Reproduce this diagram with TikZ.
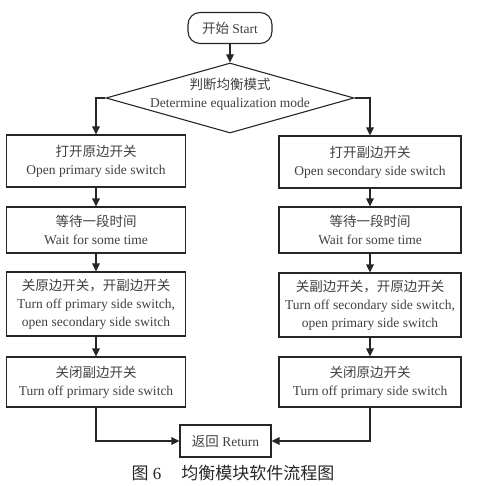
\documentclass[tikz,border=0pt]{standalone}
\usepackage{fontspec}
\setmainfont{Liberation Serif}
\newfontfamily\cjk{Noto Sans CJK SC}
\usetikzlibrary{shapes.geometric,arrows.meta}
\begin{document}
\begin{tikzpicture}[x=1pt,y=-1pt,
  line/.style={draw=black!85, line width=1.1pt},
  arr/.style={line, -{Triangle[length=8pt,width=7.5pt]}},
  txt/.style={align=center, font=\fontsize{13.5}{18}\selectfont, text=black!75},
  stepbox/.style={txt, draw=black!85, line width=1.1pt, rectangle, inner sep=0pt},
  lbox/.style={stepbox, minimum width=179pt},
  rbox/.style={stepbox, minimum width=182pt},
  startbox/.style={stepbox, rounded corners=12pt, minimum width=84pt, minimum height=31pt},
  dia/.style={draw=black!85, line width=1.1pt, diamond, inner sep=0pt, minimum width=248pt, minimum height=70pt}
]
\useasboundingbox (0,0) rectangle (479,486);

\node[startbox] (s) at (230,28) {{\cjk 开始} Start};
\node[dia] (d) at (230,98) {};
\node[txt] (dt) at (230,94) {{\cjk 判断均衡模式}\\Determine equalization mode};

\node[lbox, minimum height=52pt] (L1) at (96,161) {{\cjk 打开原边开关}\\Open primary side switch};
\node[lbox, minimum height=46pt] (L2) at (96,230) {{\cjk 等待一段时间}\\Wait for some time};
\node[lbox, minimum height=64pt] (L3) at (96,304) {{\cjk 关原边开关，开副边开关}\\Turn off primary side switch,\\open secondary side switch};
\node[lbox, minimum height=50pt] (L4) at (96,382) {{\cjk 关闭副边开关}\\Turn off primary side switch};

\node[rbox, minimum height=52pt] (R1) at (370,162) {{\cjk 打开副边开关}\\Open secondary side switch};
\node[rbox, minimum height=46pt] (R2) at (370,230) {{\cjk 等待一段时间}\\Wait for some time};
\node[rbox, minimum height=64pt] (R3) at (370,305) {{\cjk 关副边开关，开原边开关}\\Turn off secondary side switch,\\open primary side switch};
\node[rbox, minimum height=50pt] (R4) at (370,382) {{\cjk 关闭原边开关}\\Turn off primary side switch};

\node[stepbox, minimum width=91pt, minimum height=32pt] (ret) at (225.5,441) {{\cjk 返回} Return};

\node[font=\fontsize{17}{18}\selectfont, text=black!85] (cap) at (233,473) {{\cjk 图}~6\hspace{20pt}{\cjk 均衡模块软件流程图}};

\draw[arr] (s) -- (d.north);
\draw[arr] (d.west) -| (L1.north);
\draw[arr] (d.east) -| (R1.north);
\draw[arr] (L1) -- (L2);
\draw[arr] (L2) -- (L3);
\draw[arr] (L3) -- (L4);
\draw[arr] (R1) -- (R2);
\draw[arr] (R2) -- (R3);
\draw[arr] (R3) -- (R4);
\draw[arr] (L4.south) |- (ret.west);
\draw[arr] (R4.south) |- (ret.east);
\end{tikzpicture}
\end{document}
